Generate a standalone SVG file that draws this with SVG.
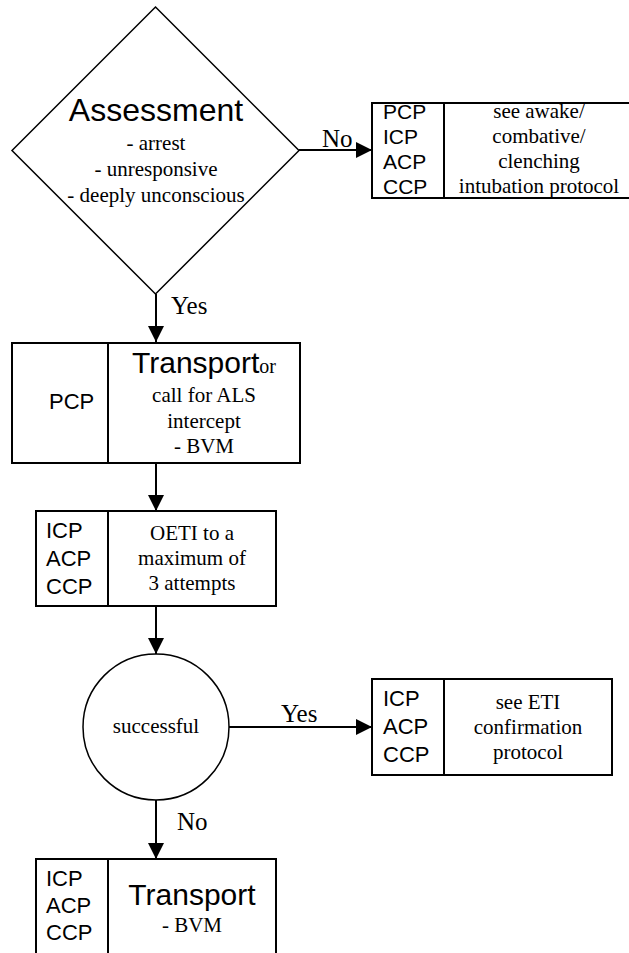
<svg xmlns="http://www.w3.org/2000/svg" width="629" height="953" viewBox="0 0 629 953">
  <style>
    .shape { fill: #ffffff; stroke: #000000; stroke-width: 2; }
    .thin { fill: #ffffff; stroke: #000000; stroke-width: 1.5; }
    .div { stroke: #000000; stroke-width: 2; }
    .edge { fill: none; stroke: #000000; stroke-width: 2; marker-end: url(#arrow); }
    .sans { font-family: "Liberation Sans", Arial, sans-serif; fill: #000; }
    .serif { font-family: "Liberation Serif", "Times New Roman", serif; fill: #000; }
    .title { font-size: 30px; }
    .role { font-size: 22px; }
    .body { font-size: 21px; }
    .label { font-size: 25px; }
    .mid { text-anchor: middle; }
  </style>
  <defs>
    <marker id="arrow" markerUnits="userSpaceOnUse" markerWidth="16" markerHeight="16" refX="16" refY="8" orient="auto">
      <path d="M0,0 L16,8 L0,16 Z" fill="#000"/>
    </marker>
  </defs>

  <rect width="629" height="953" fill="#ffffff"/>

  <!-- connectors -->
  <g id="connectors">
    <path class="edge" d="M156,294 L156,342"/>
    <path class="edge" d="M299,150 L372,150"/>
    <path class="edge" d="M156,463 L156,511"/>
    <path class="edge" d="M156,606 L156,654"/>
    <path class="edge" d="M229,727 L372,727"/>
    <path class="edge" d="M156,800 L156,859"/>
    <text class="serif label" x="322" y="147">No</text>
    <text class="serif label" x="171" y="314">Yes</text>
    <text class="serif label" x="281" y="722">Yes</text>
    <text class="serif label" x="177" y="830">No</text>
  </g>

  <!-- decision: assessment -->
  <g id="assessment">
    <polygon class="thin" points="155.5,7 299,150.5 155.5,294 12,150.5"/>
    <text class="sans mid" x="156" y="121" font-size="32">Assessment</text>
    <text class="serif body mid" x="156" y="150">- arrest</text>
    <text class="serif body mid" x="156" y="176">- unresponsive</text>
    <text class="serif body mid" x="156" y="202">- deeply unconscious</text>
  </g>

  <!-- awake / combative reference -->
  <g id="awake-protocol">
    <rect class="shape" x="372" y="103" width="262" height="95"/>
    <line class="div" x1="444" y1="103" x2="444" y2="198"/>
    <text class="sans body" x="383" y="119">PCP</text>
    <text class="sans body" x="383" y="144">ICP</text>
    <text class="sans body" x="383" y="169">ACP</text>
    <text class="sans body" x="383" y="194">CCP</text>
    <text class="serif body mid" x="539" y="118">see awake/</text>
    <text class="serif body mid" x="539" y="143">combative/</text>
    <text class="serif body mid" x="539" y="168">clenching</text>
    <text class="serif body mid" x="539" y="193">intubation protocol</text>
  </g>

  <!-- PCP transport -->
  <g id="pcp-transport">
    <rect class="shape" x="12" y="343" width="288" height="120"/>
    <line class="div" x1="108" y1="343" x2="108" y2="463"/>
    <text class="sans role" x="49" y="409">PCP</text>
    <text class="mid" x="204" y="373"><tspan class="sans title">Transport</tspan><tspan class="serif" font-size="20">or</tspan></text>
    <text class="serif body mid" x="204" y="402">call for ALS</text>
    <text class="serif body mid" x="204" y="428">intercept</text>
    <text class="serif body mid" x="204" y="453">- BVM</text>
  </g>

  <!-- intubation attempts -->
  <g id="oeti">
    <rect class="shape" x="36" y="511" width="240" height="95"/>
    <line class="div" x1="108" y1="511" x2="108" y2="606"/>
    <text class="sans role" x="46" y="538">ICP</text>
    <text class="sans role" x="46" y="566">ACP</text>
    <text class="sans role" x="46" y="594">CCP</text>
    <text class="serif body mid" x="192" y="540">OETI to a</text>
    <text class="serif body mid" x="192" y="565">maximum of</text>
    <text class="serif body mid" x="192" y="590">3 attempts</text>
  </g>

  <!-- decision: successful -->
  <g id="successful">
    <circle class="thin" cx="156" cy="727" r="73"/>
    <text class="serif body mid" x="156" y="733">successful</text>
  </g>

  <!-- ETI confirmation reference -->
  <g id="eti-confirmation">
    <rect class="shape" x="372" y="679" width="240" height="96"/>
    <line class="div" x1="444" y1="679" x2="444" y2="775"/>
    <text class="sans role" x="383" y="706">ICP</text>
    <text class="sans role" x="383" y="734">ACP</text>
    <text class="sans role" x="383" y="762">CCP</text>
    <text class="serif body mid" x="528" y="709">see ETI</text>
    <text class="serif body mid" x="528" y="734">confirmation</text>
    <text class="serif body mid" x="528" y="759">protocol</text>
  </g>

  <!-- ALS transport -->
  <g id="als-transport">
    <rect class="shape" x="36" y="859" width="240" height="96"/>
    <line class="div" x1="108" y1="859" x2="108" y2="955"/>
    <text class="sans role" x="46" y="886">ICP</text>
    <text class="sans role" x="46" y="913">ACP</text>
    <text class="sans role" x="46" y="940">CCP</text>
    <text class="sans title mid" x="192" y="905">Transport</text>
    <text class="serif body mid" x="192" y="932">- BVM</text>
  </g>
</svg>
